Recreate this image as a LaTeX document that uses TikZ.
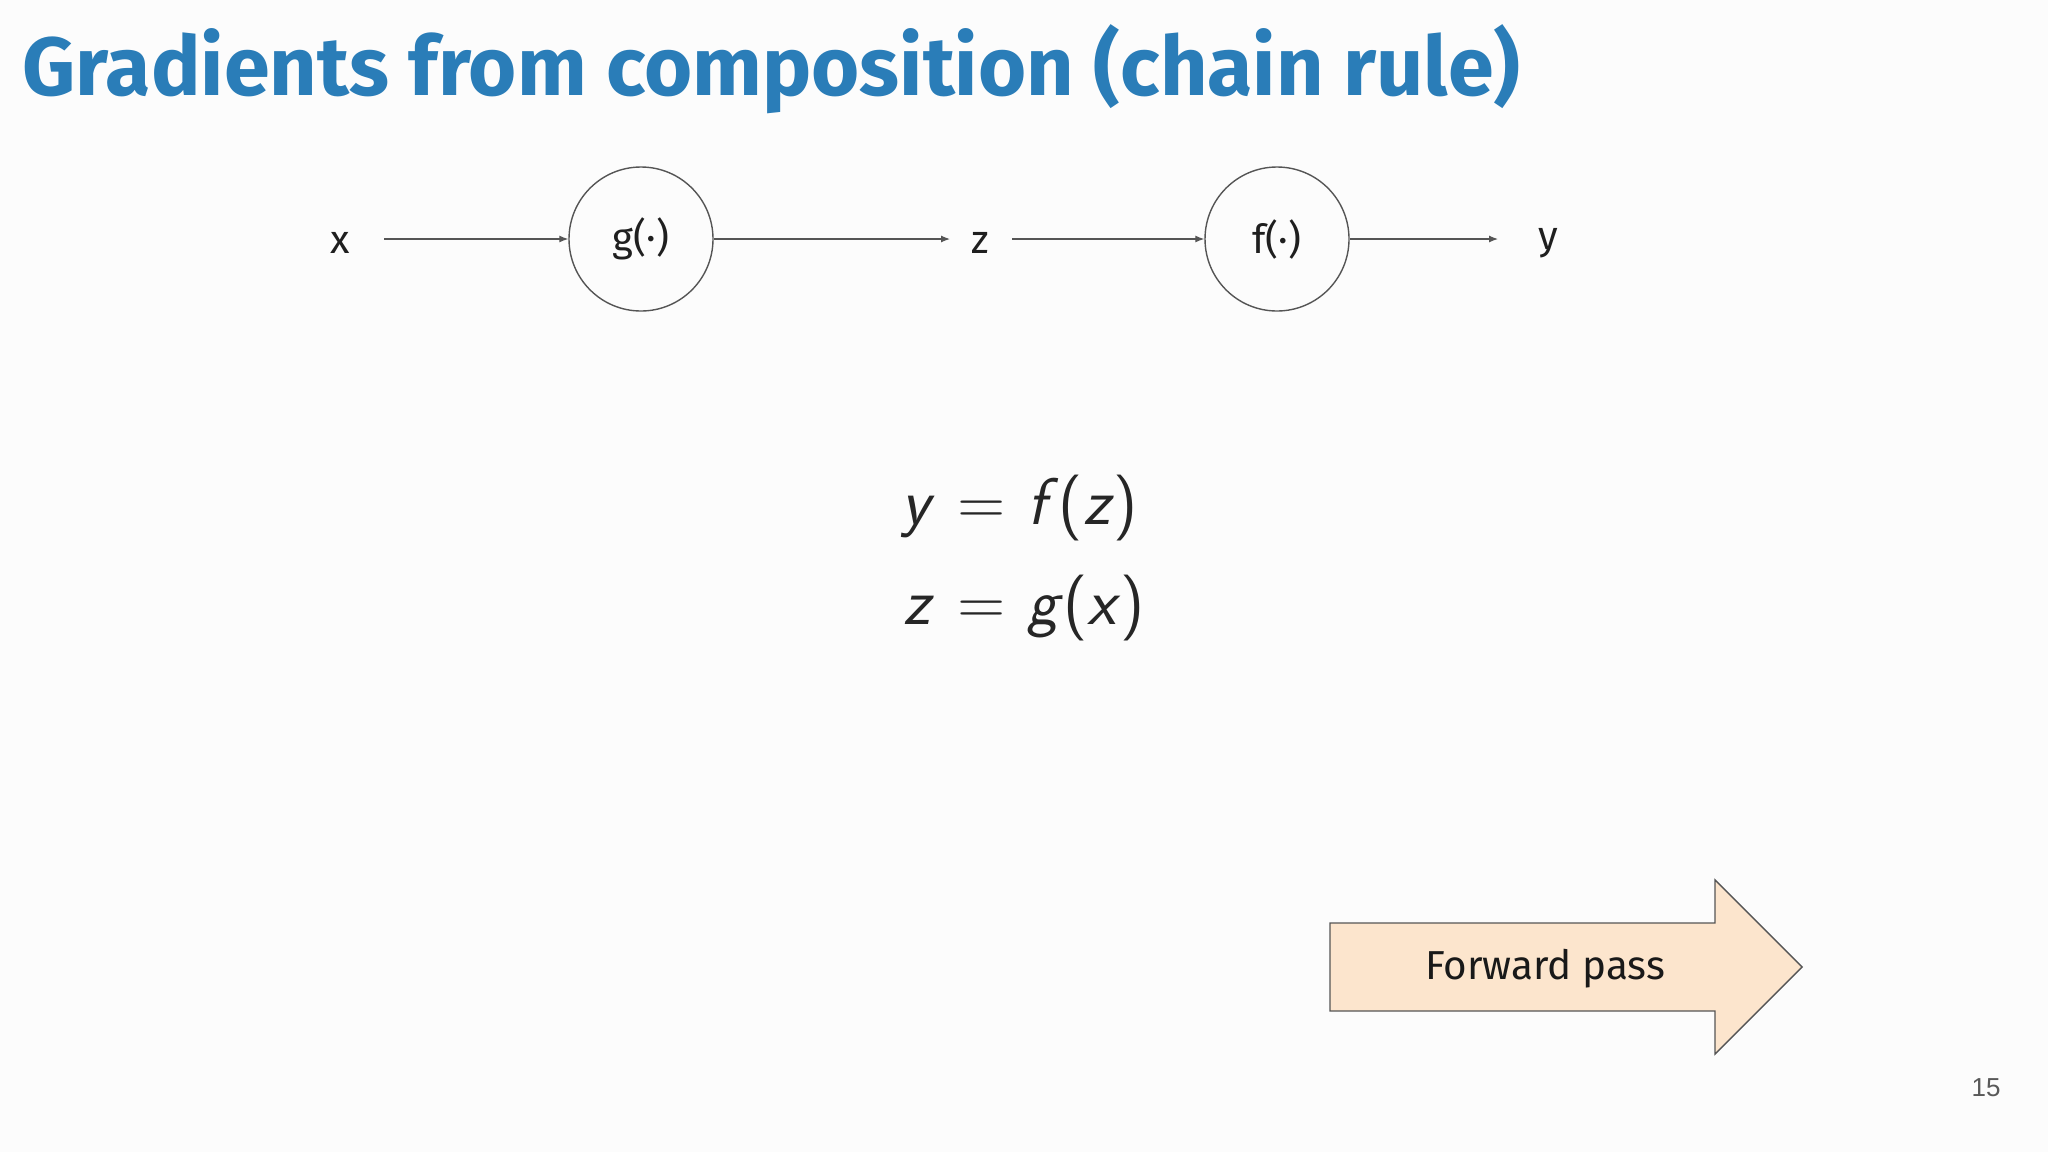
\documentclass[tikz,border=0pt]{standalone}
\usepackage{fontspec}
\setmainfont{Fira Sans}
\newfontfamily\numfont{Liberation Sans}
\usetikzlibrary{arrows.meta}
\definecolor{titleblue}{HTML}{2A7DB8}
\definecolor{peach}{HTML}{FCE5CD}
\definecolor{linegray}{HTML}{555555}
\definecolor{bgc}{HTML}{FCFCFC}
\tikzset{
  lbl/.style={font=\fontsize{20}{24}\selectfont, text=black!88, inner sep=0pt},
  fnode/.style={circle, draw=linegray, line width=0.7pt, minimum size=72pt, inner sep=0pt, font=\fontsize{20}{24}\selectfont, text=black!88},
  conn/.style={draw=linegray, line width=0.6pt, -{Latex[length=4.5pt,width=3.5pt]}},
}
\begin{document}
\begin{tikzpicture}[x=0.5pt,y=-0.5pt]
\fill[bgc] (0,0) rectangle (2048,1152);
\useasboundingbox (0,0) rectangle (2048,1152);
% title
\node[anchor=base west, inner sep=0pt, text=titleblue, font=\fontsize{41.3}{48}\selectfont\bfseries] (title) at (22,95) {Gradients from composition (chain rule)};
% graph
\node[lbl] (x) at (340,243) {x};
\node[fnode] (g) at (641,239) {g(·)};
\node[lbl] (z) at (980,243) {z};
\node[fnode] (f) at (1277,239) {f(·)};
\node[lbl] (y) at (1548,243) {y};
\coordinate (xr) at (384,239);
\coordinate (zl) at (950,239);
\coordinate (zr) at (1012,239);
\coordinate (yl) at (1498,239);
\draw[conn] (xr) -- (g.west);
\draw[conn] (g.east) -- (zl);
\draw[conn] (zr) -- (f.west);
\draw[conn] (f.east) -- (yl);
% equations
\node[inner sep=0pt, font=\fontsize{33}{48}\sffamily, text=black!85] (eq) at (1023,555) {%
\begin{tabular}{@{}r@{\hspace{0.34em}}c@{\hspace{0.34em}}l@{}}
{\slshape y\/} & = & {\slshape f\/}({\slshape z\/})\\[2pt]
{\slshape z\/} & = & {\slshape g\/}({\slshape x\/})
\end{tabular}};
% forward pass arrow
\draw[draw=linegray, line width=0.7pt, fill=peach, line join=miter]
  (1330,923) -- (1715,923) -- (1715,880) -- (1802,967) -- (1715,1054) -- (1715,1011) -- (1330,1011) -- cycle;
\node[inner sep=0pt, font=\fontsize{20.2}{24}\selectfont, text=black!90] (fp) at (1545,969) {Forward pass};
% page number
\node[inner sep=0pt, font=\numfont\fontsize{13}{15}\selectfont, text=black!65] (pn) at (1986,1088) {15};
\end{tikzpicture}
\end{document}
